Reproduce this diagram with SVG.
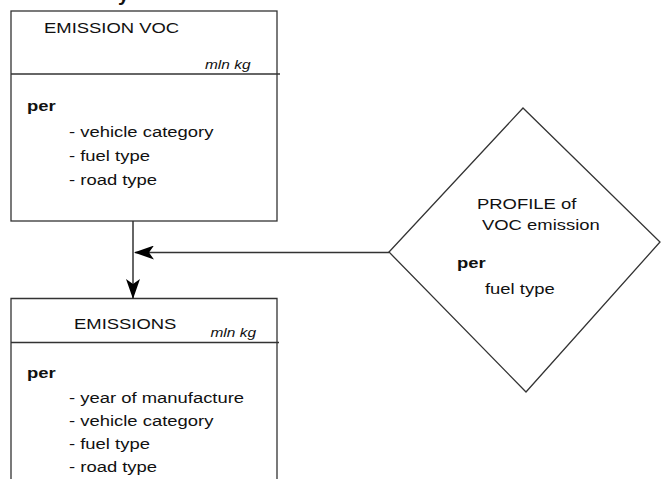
<svg xmlns="http://www.w3.org/2000/svg" width="661" height="479" viewBox="0 0 661 479">
<style>
.t{font-family:"Liberation Sans",Arial,sans-serif;font-size:15.5px;fill:#111}
.b{font-weight:bold}
.u{font-family:"Liberation Sans",Arial,sans-serif;font-size:13px;font-style:italic;fill:#111}
.s{fill:#fff;stroke:#333;stroke-width:1.3}
.l{fill:none;stroke:#333;stroke-width:1.3}
.c{fill:none;stroke:#333;stroke-width:1.5}
</style>
<defs>
<marker id="ah" markerUnits="userSpaceOnUse" markerWidth="20" markerHeight="14" refX="19" refY="7" orient="auto" viewBox="0 0 20 14">
<path d="M0,0 L20,7 L0,14 L5,7 Z" fill="#000"/>
</marker>
</defs>
<text class="t b" x="118" y="1" style="font-size:20px">y</text>
<g id="node-emission-voc">
<rect class="s" x="11" y="11" width="266" height="210"/>
<line class="l" x1="11" y1="74" x2="280" y2="74"/>
<text class="t" transform="translate(44,33.3) scale(1.19,1)">EMISSION VOC</text>
<text class="u" transform="translate(205,68.5) scale(1.19,1)">mln kg</text>
<text class="t b" transform="translate(27,111) scale(1.19,1)">per</text>
<text class="t" transform="translate(69,137) scale(1.19,1)">- vehicle category</text>
<text class="t" transform="translate(69,160.5) scale(1.19,1)">- fuel type</text>
<text class="t" transform="translate(69,184.5) scale(1.19,1)">- road type</text>
</g>
<g id="node-emissions">
<path class="s" d="M11,490 L11,298.5 L277,298.5 L277,490"/>
<line class="l" x1="11" y1="342.5" x2="279" y2="342.5"/>
<text class="t" transform="translate(74,329) scale(1.19,1)">EMISSIONS</text>
<text class="u" transform="translate(210.5,336.5) scale(1.19,1)">mln kg</text>
<text class="t b" transform="translate(27,378) scale(1.19,1)">per</text>
<text class="t" transform="translate(69,403) scale(1.19,1)">- year of manufacture</text>
<text class="t" transform="translate(69,426) scale(1.19,1)">- vehicle category</text>
<text class="t" transform="translate(69,448.5) scale(1.19,1)">- fuel type</text>
<text class="t" transform="translate(69,472) scale(1.19,1)">- road type</text>
</g>
<g id="node-profile">
<polygon class="s" points="523,108 660,242 526,392 389,252"/>
<text class="t" transform="translate(477,208.5) scale(1.19,1)">PROFILE of</text>
<text class="t" transform="translate(482,230) scale(1.19,1)">VOC emission</text>
<text class="t b" transform="translate(457,268) scale(1.19,1)">per</text>
<text class="t" transform="translate(485,293.5) scale(1.19,1)">fuel type</text>
</g>
<g id="connectors">
<line class="c" x1="133" y1="221" x2="133" y2="298" marker-end="url(#ah)"/>
<line class="c" x1="389" y1="252.5" x2="135" y2="252.5" marker-end="url(#ah)"/>
</g>
</svg>
